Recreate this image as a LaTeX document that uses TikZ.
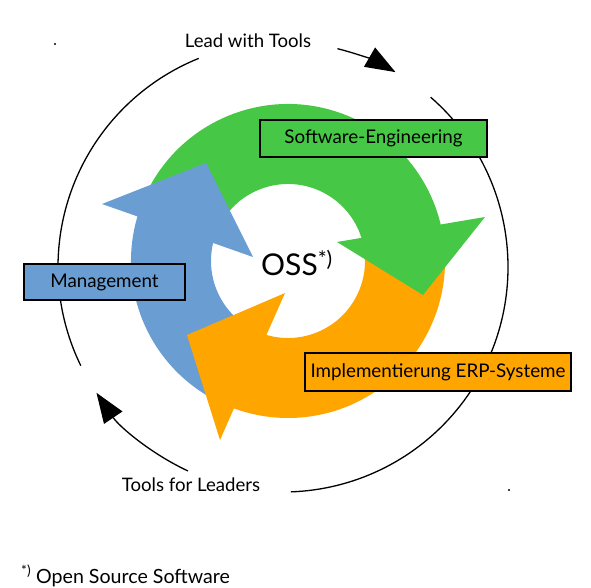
\documentclass[tikz,border=0pt]{standalone}
\usepackage{fontspec}
\setmainfont{Lato}
\usetikzlibrary{arrows.meta}
\definecolor{ossgreen}{RGB}{70,200,70}
\definecolor{ossblue}{RGB}{106,158,211}
\definecolor{ossorange}{RGB}{255,165,0}
\tikzset{
  labelbox/.style={draw=black, line width=1.6pt, inner sep=0pt, font=\fontsize{18.8}{22}\selectfont},
  plaintext/.style={inner sep=0pt, font=\fontsize{18.6}{22}\selectfont},
  cycleline/.style={line width=1.3pt, draw=black},
  cyclearrow/.style={cycleline, -{Triangle[length=30pt,width=22pt]}}
}
\begin{document}
\begin{tikzpicture}[x=1pt,y=1pt]
\useasboundingbox (0,0) rectangle (591,587);
\coordinate (C) at (288,326);
\coordinate (O) at (283,320);
% outer thin circle
\draw[cycleline] ([shift={(O)}]112:225) arc[start angle=112,end angle=206,radius=225];
\draw[cyclearrow] ([shift={(O)}]76:225) arc[start angle=76,end angle=60,radius=225];
\draw[cycleline] ([shift={(O)}]49:225) arc[start angle=49,end angle=-88,radius=225];
\draw[cyclearrow] ([shift={(O)}]245:225) arc[start angle=245,end angle=214,radius=225];
% bodies
\fill[ossgreen] ([shift={(C)}]160:157) arc[start angle=160,end angle=12,radius=157]
  -- ([shift={(C)}]12:77) arc[start angle=12,end angle=160,radius=77] -- cycle;
\fill[ossorange] ([shift={(C)}]5:157) arc[start angle=5,end angle=-112,radius=157]
  -- ([shift={(C)}]-112:77) arc[start angle=-112,end angle=5,radius=77] -- cycle;
\fill[ossblue] ([shift={(C)}]240:157) arc[start angle=240,end angle=162,radius=157]
  -- ([shift={(C)}]162:77) arc[start angle=162,end angle=240,radius=77] -- cycle;
% heads
\fill[ossgreen] (337,345) -- (485,370) -- (423,292) -- cycle;
\fill[ossorange] (285,294) -- (187,252) -- (220,147) -- cycle;
\fill[ossblue] (253,330) -- (102,383) -- (206,424) -- cycle;
% boxes
\node[labelbox, fill=ossgreen, minimum width=227pt, minimum height=37pt] (se) at (373.5,448.5) {Software-Engineering};
\node[labelbox, fill=ossblue, minimum width=161pt, minimum height=36pt] (mg) at (104.5,305) {Management};
\node[labelbox, fill=ossorange, minimum width=266pt, minimum height=38pt] (im) at (438,215) {Implementierung ERP-Systeme};
% texts
\node[inner sep=0pt, font=\fontsize{30}{34}\selectfont] (oss) at (297,324) {OSS\textsuperscript{*)}};
\node[plaintext] (lead) at (248,546) {Lead with Tools};
\node[plaintext] (tfl) at (191,102) {Tools for Leaders};
\node[plaintext, anchor=west, font=\fontsize{19.6}{23}\selectfont] (fn) at (21,11) {\textsuperscript{*)} Open Source Software};
\fill (55,543) circle[radius=1.1];
\fill (509,97) circle[radius=1.1];
\end{tikzpicture}
\end{document}
